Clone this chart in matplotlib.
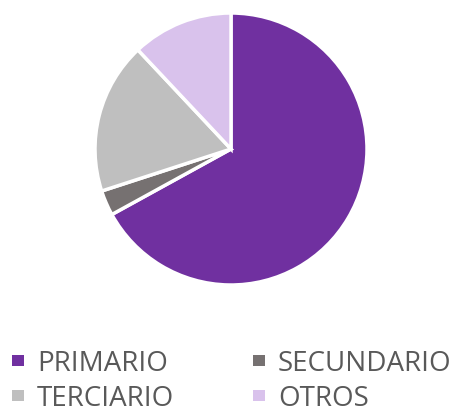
import matplotlib.pyplot as plt
from matplotlib.patches import Rectangle

plt.rcParams['font.family'] = ['Open Sans', 'DejaVu Sans']

sectores = ['PRIMARIO', 'SECUNDARIO', 'TERCIARIO', 'OTROS']
valores = [67, 3, 18, 12]
colores = ['#7030A0', '#767171', '#BFBFBF', '#D9C2EC']

W, H = 451, 414
cx, cy, r = 231, 150, 136

fig = plt.figure(figsize=(W / 100, H / 100), dpi=100)
ax = fig.add_axes([(cx - r) / W, 1 - (cy + r) / H, 2 * r / W, 2 * r / H])

ax.pie(valores, colors=colores, startangle=90, counterclock=False,
       wedgeprops=dict(edgecolor='white', linewidth=2.5))
ax.set_xlim(-1, 1)
ax.set_ylim(-1, 1)
ax.set_aspect('equal')

# leyenda: 2 filas x 2 columnas (posiciones en pixeles desde arriba-izquierda)
col_x = [12, 253]
fila_y = [371, 406]
for i, (nombre, color) in enumerate(zip(sectores, colores)):
    x = col_x[i % 2]
    y = fila_y[i // 2]
    fig.add_artist(Rectangle((x / W, 1 - (y - 4) / H), 12 / W, 11 / H,
                             transform=fig.transFigure, facecolor=color,
                             edgecolor='none'))
    fig.text((x + 25) / W, 1 - y / H, nombre, fontsize=20,
             color='#595959', va='baseline', ha='left')

fig.savefig('out.png', dpi=100)
